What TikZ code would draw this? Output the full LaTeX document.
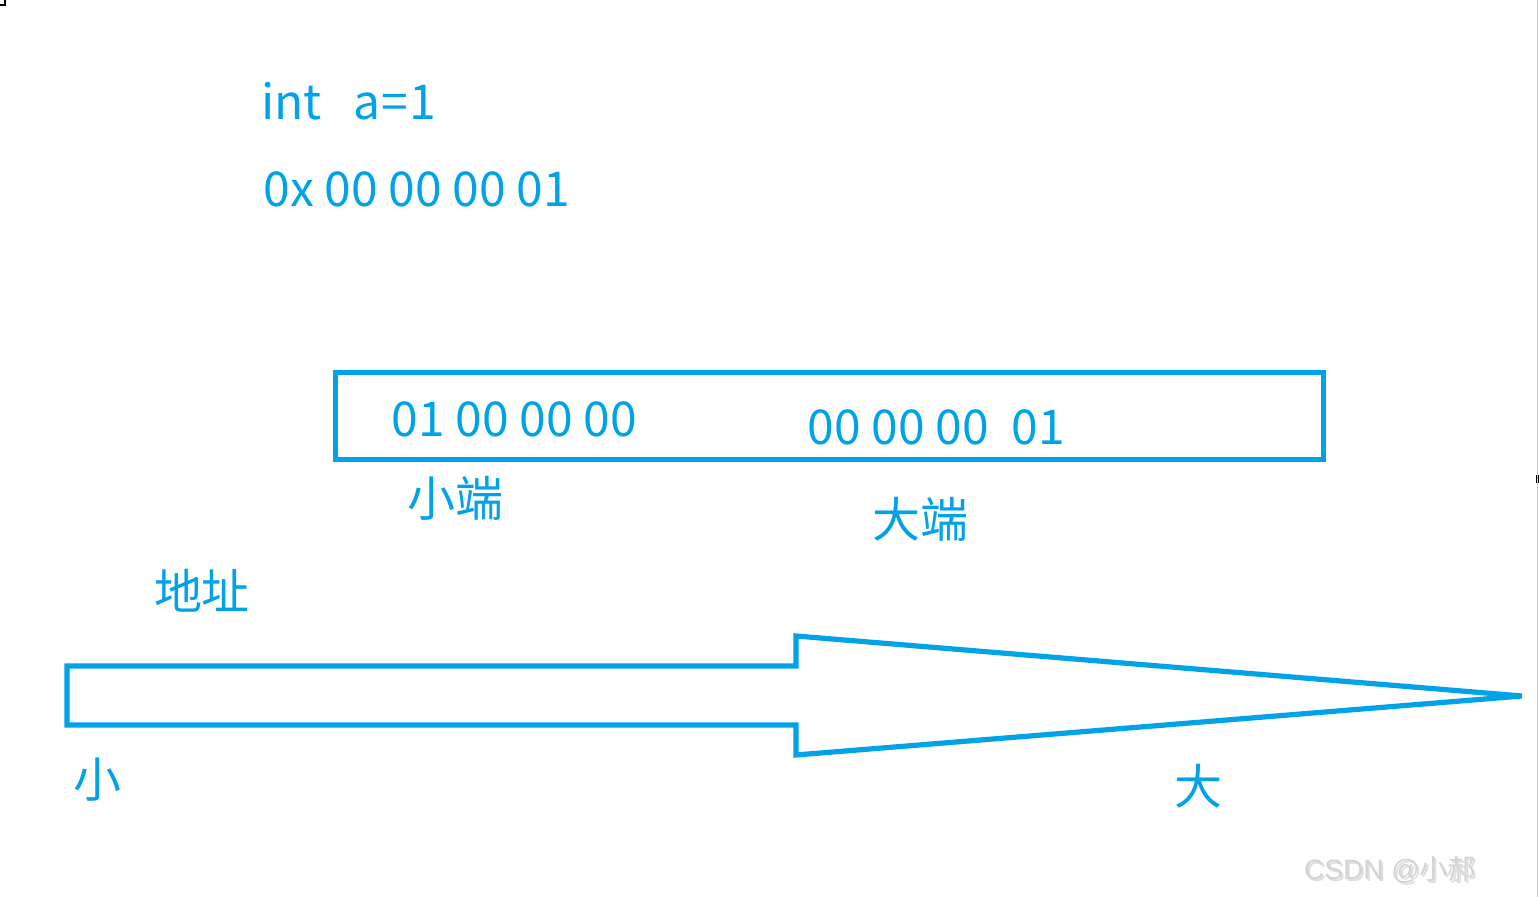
\documentclass[tikz,border=0pt]{standalone}
\usepackage{fontspec}
\setmainfont{Noto Sans CJK SC}
\newfontfamily\wmlatin{Liberation Sans}
\definecolor{paintblue}{HTML}{00A2E8}
\definecolor{wmgray}{HTML}{D4D4D4}
\begin{document}
\begin{tikzpicture}[x=0.5pt,y=-0.5pt,
  txt/.style={text=paintblue,inner sep=0pt,font=\fontsize{24}{28}\selectfont},
  wm/.style={text=wmgray,inner sep=0pt,font=\fontsize{14}{17}\selectfont},
  bluestroke/.style={draw=paintblue,line width=2.6pt}]
\useasboundingbox (0,0) rectangle (1539,897);
% edge marks
\draw[black,line width=0.8pt] (0,5) -- (5,5) -- (5,0);
\fill[black] (1536,475) rectangle (1539,483);
\draw[gray!40,line width=0.5pt] (1537,0) -- (1537,897);
% texts
\node[txt,anchor=base west] (int) at (261,120) {int\hspace{16pt}a\hspace{0.5pt}=\hspace{0.5pt}1};
\node[txt,anchor=base west] (hex) at (263,207) {0x 00 00 00 01};
\node[bluestroke,rectangle,minimum width=494pt,minimum height=43.5pt,anchor=center] (box) at (829.5,416) {};
\node[txt,anchor=base west] (le) at (391,437) {01 00 00 00};
\node[txt,anchor=base west] (be) at (807,445) {00 00 00\hspace{6pt} 01};
\node[txt,anchor=center] (lel) at (455,498) {小端};
\node[txt,anchor=center] (bel) at (920,519) {大端};
\node[txt,anchor=center] (addr) at (202,591) {地址};
\node[txt,anchor=center] (small) at (97,780) {小};
\node[txt,anchor=center] (big) at (1198,786) {大};
% arrow
\coordinate (a1) at (67,666);
\coordinate (a2) at (796,666);
\coordinate (a3) at (796,636);
\coordinate (tip) at (1522,696);
\coordinate (a5) at (796,755);
\coordinate (a6) at (796,725);
\coordinate (a7) at (67,725);
\draw[bluestroke,line join=miter] (a1) -- (a2) -- (a3) -- (tip) -- (a5) -- (a6) -- (a7) -- cycle;
% watermark
\node[wm,anchor=center,text=gray!25] at (1392,872) {\wmlatin CSDN @\normalfont 小郝};
\node[wm,anchor=center] (wmk) at (1390,870) {\wmlatin CSDN @\normalfont 小郝};
\end{tikzpicture}
\end{document}
